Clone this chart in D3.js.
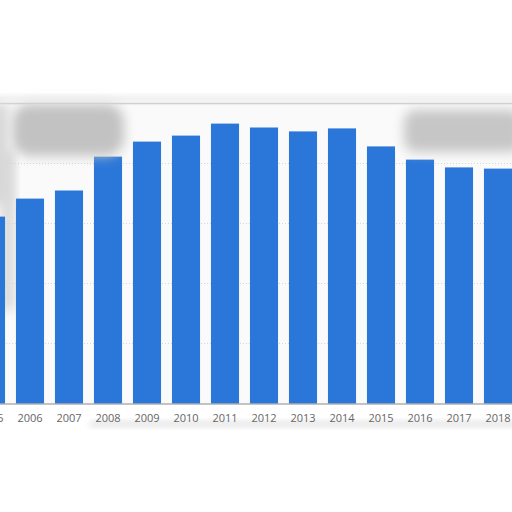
<!DOCTYPE html>
<html>
<head>
<meta charset="utf-8">
<script src="https://cdn.jsdelivr.net/npm/d3@7"></script>
<style>
  body { margin: 0; background: #fff; }
  svg { display: block; }
</style>
</head>
<body>
<div id="chart"></div>
<script>
var years = ["2005", "2006", "2007", "2008", "2009", "2010", "2011", "2012", "2013", "2014", "2015", "2016", "2017", "2018"];
var values = [62.3, 68.3, 71, 82.3, 87.3, 89.3, 93.3, 92, 90.7, 91.7, 85.7, 81.3, 78.7, 78.3];
var gridTicks = [0, 20, 40, 60, 80, 100];

var width = 512, height = 512;
var baseY = 403.5, topY = 103.5;

var svg = d3.select("#chart").append("svg")
    .attr("width", width)
    .attr("height", height);

var defs = svg.append("defs");
defs.append("filter").attr("id", "blur").attr("x", "-50%").attr("y", "-50%").attr("width", "200%").attr("height", "200%")
    .append("feGaussianBlur").attr("stdDeviation", 6);
defs.append("filter").attr("id", "blurSmall").attr("x", "-50%").attr("y", "-50%").attr("width", "200%").attr("height", "200%")
    .append("feGaussianBlur").attr("stdDeviation", 3);

// x positions: 2006 centred at 30, step 39
var x = d3.scaleBand()
    .domain(years)
    .range([-9 - 19.5, -9 - 19.5 + 39 * years.length])
    .paddingInner(0.28)
    .paddingOuter(0.14);

var y = d3.scaleLinear().domain([0, 100]).range([baseY, topY]);

// plot background
svg.append("rect")
    .attr("x", 0).attr("y", topY).attr("width", width).attr("height", baseY - topY)
    .attr("fill", "#fafafa");

// soft shading on the left, behind the bars
svg.append("rect")
    .attr("x", 2).attr("y", 150).attr("width", 12).attr("height", 160)
    .attr("fill", "#d4d4d4").attr("filter", "url(#blur)");

// gridlines
svg.append("g").selectAll("line")
    .data(gridTicks.slice(1, -1))
    .enter().append("line")
    .attr("x1", 0).attr("x2", width)
    .attr("y1", function(d) { return y(d); })
    .attr("y2", function(d) { return y(d); })
    .attr("stroke", "#d6d6d6")
    .attr("stroke-dasharray", "1,2");

// top border
svg.append("line")
    .attr("x1", 0).attr("x2", width)
    .attr("y1", y(100)).attr("y2", y(100))
    .attr("stroke", "#c4c4c4").attr("stroke-width", 1.5);

// bars
svg.append("g").selectAll("rect")
    .data(values)
    .enter().append("rect")
    .attr("x", function(d, i) { return x(years[i]); })
    .attr("width", x.bandwidth())
    .attr("y", function(d) { return y(d); })
    .attr("height", function(d) { return baseY - y(d); })
    .attr("fill", "#2b77d9");

// baseline
svg.append("line")
    .attr("x1", 0).attr("x2", width)
    .attr("y1", baseY + 0.5).attr("y2", baseY + 0.5)
    .attr("stroke", "#888").attr("stroke-width", 1.2);

// blurred smudges over the picture
var smudge = svg.append("g");
smudge.append("rect")
    .attr("x", 12).attr("y", 104).attr("width", 112).attr("height", 52).attr("rx", 18)
    .attr("fill", "#c2c2c2").attr("filter", "url(#blur)");
smudge.append("rect")
    .attr("x", -10).attr("y", 104).attr("width", 18).attr("height", 100)
    .attr("fill", "#d6d6d6").attr("filter", "url(#blur)");
smudge.append("rect")
    .attr("x", 404).attr("y", 110).attr("width", 118).attr("height", 42).attr("rx", 12)
    .attr("fill", "#c6c6c6").attr("filter", "url(#blur)");
smudge.append("rect")
    .attr("x", -10).attr("y", 96).attr("width", 530).attr("height", 6)
    .attr("fill", "#ebebeb").attr("filter", "url(#blurSmall)");
smudge.append("rect")
    .attr("x", 90).attr("y", 421).attr("width", 430).attr("height", 6)
    .attr("fill", "#e4e4e4").attr("filter", "url(#blurSmall)");

// x labels
svg.append("g").selectAll("text")
    .data(years)
    .enter().append("text")
    .attr("x", function(d) { return x(d) + x.bandwidth() / 2; })
    .attr("y", 422)
    .attr("text-anchor", "middle")
    .attr("font-family", "Open Sans, sans-serif")
    .attr("font-size", 11)
    .attr("fill", "#666")
    .text(function(d) { return d; });
</script>
</body>
</html>
